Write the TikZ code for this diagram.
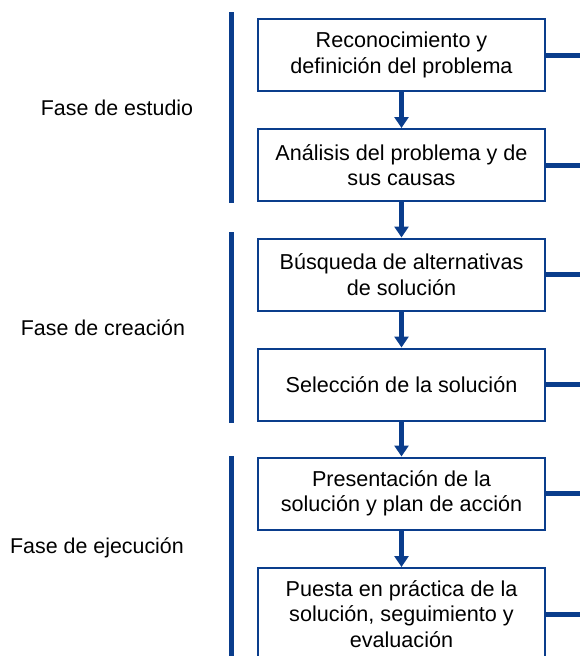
\documentclass[tikz,border=0pt]{standalone}
\usepackage{fontspec}
\setmainfont{Liberation Sans}
\usetikzlibrary{arrows.meta}

\definecolor{faseazul}{HTML}{0A3D8C}

\tikzset{
	paso/.style={draw=faseazul, line width=2pt, minimum width=287pt, minimum height=72pt, align=center, inner sep=0pt, font=\fontsize{21.6}{25.5}\selectfont},
	fase/.style={font=\fontsize{21.4}{25.5}\selectfont},
	flecha/.style={draw=faseazul, line width=5pt, -{Triangle[width=14pt,length=11pt]}},
	barra/.style={draw=faseazul, line width=5pt},
}

\begin{document}
\begin{tikzpicture}[x=1pt,y=-1pt]
\useasboundingbox (0,0) rectangle (580,656);
\clip (0,0) rectangle (580,656);
% pasos
\node[paso] (rec) at (401.5,55) {Reconocimiento y\\definición del problema};
\node[paso] (ana) at (401.5,165) {Análisis del problema y de\\sus causas};
\node[paso] (bus) at (401.5,274.5) {Búsqueda de alternativas\\de solución};
\node[paso] (sel) at (401.5,384.5) {Selección de la solución};
\node[paso] (pre) at (401.5,493.5) {Presentación de la\\solución y plan de acción};
\node[paso, minimum height=92pt] (pue) at (401.5,614) {Puesta en práctica de la\\solución, seguimiento y\\evaluación};
% fases
\node[fase] (estudio) at (117,108) {Fase de estudio};
\node[fase] (creacion) at (103,328) {Fase de creación};
\node[fase] (ejecucion) at (97,548) {Fase de ejecución};
\draw[barra] (231,12) -- (231,203);
\draw[barra] (231,232) -- (231,423);
\draw[barra] (231,456) -- (231,670);
% flechas
\foreach \a/\b in {rec/ana, ana/bus, bus/sel, sel/pre, pre/pue}
	\draw[flecha] (\a.south) -- (\b.north);
\coordinate (borde) at (590,0);
\foreach \a in {rec, ana, bus, sel, pre, pue}
	\draw[barra] (\a.east) -- (\a.east -| borde);
\end{tikzpicture}
\end{document}
